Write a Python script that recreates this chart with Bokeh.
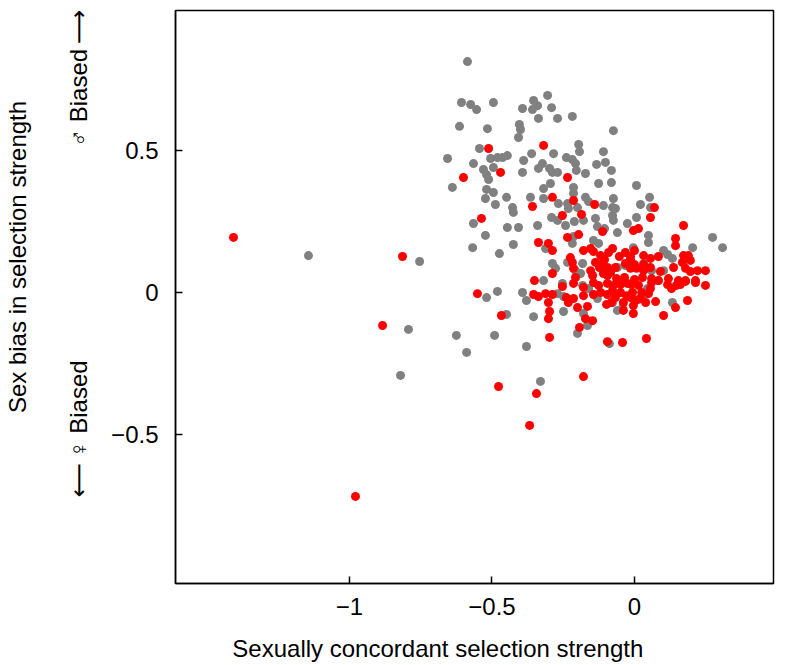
from bokeh.plotting import figure
from bokeh.models import Range1d, FixedTicker, LinearAxis
from bokeh.embed import file_html
from bokeh.resources import INLINE

# ---- data ----
gray_x = [-0.586, -0.607, -0.575, -0.554, -0.495, -0.393, -0.354, -0.340, -0.358, -0.305,
          -0.291, -0.337, -0.270, -0.218, -0.404, -0.400, -0.407, -0.614, -0.516, -0.074,
          -0.656, -0.544, -0.196, -0.193, -0.284, -0.361, -0.109, -0.505, -0.481, -0.463,
          -0.446, -0.565, -0.495, -0.530, -0.519, -0.512, -0.389, -0.393, -0.323, -0.337,
          -0.298, -0.288, -0.270, -0.239, -0.218, -0.207, -0.204, -0.172, -0.133, -0.102,
          -0.081, -0.295, -0.319, -0.319, -0.365, -0.214, -0.214, -0.126, -0.081, -0.519,
          -0.495, -0.523, -0.449, -0.488, -0.428, -0.425, -0.235, -0.267, -0.172, -0.161,
          -0.109, -0.074, -0.077, -0.067, -0.232, -0.200, -0.291, -0.270, -0.242, -0.211,
          -0.179, -0.137, -0.130, -0.105, -0.077, -0.074, -0.060, -0.565, -0.446, -0.407,
          -0.340, -0.639, -0.214, -0.218, -0.144, -0.126, -0.025, 0.007, 0.021, 0.007,
          0.053, 0.056, 0.049, 0.049, 0.274, 0.309, 0.204, 0.102, 0.116, 0.133,
          -0.004, 0.032, 0.060, 0.102, 0.084, 0.046, 0.039, 0.014, 0.133, -0.060,
          -0.042, -0.312, -0.288, -0.277, -0.235, -0.182, -0.207, -0.189, -0.319, -0.253,
          -0.182, -0.161, -0.270, -0.249, -0.130, -0.077, -0.249, -0.179, -0.165, -0.200,
          -0.060, -0.032, -0.519, -0.481, -0.393, -0.379, -0.449, -0.354, -0.625, -0.491,
          -0.589, -0.379, -0.330, -0.088, -1.144, -0.754, -0.793, -0.821, -0.474, -0.425,
          -0.523, -0.568]
gray_y = [0.813, 0.669, 0.662, 0.644, 0.669, 0.648, 0.676, 0.658, 0.644, 0.694,
          0.651, 0.613, 0.613, 0.620, 0.592, 0.574, 0.546, 0.585, 0.577, 0.570,
          0.472, 0.507, 0.521, 0.496, 0.489, 0.489, 0.496, 0.472, 0.475, 0.475,
          0.482, 0.454, 0.440, 0.433, 0.415, 0.398, 0.465, 0.423, 0.454, 0.437,
          0.437, 0.423, 0.423, 0.475, 0.468, 0.454, 0.430, 0.419, 0.451, 0.458,
          0.430, 0.384, 0.366, 0.331, 0.335, 0.370, 0.349, 0.384, 0.387, 0.363,
          0.352, 0.331, 0.335, 0.310, 0.299, 0.282, 0.313, 0.313, 0.335, 0.320,
          0.306, 0.331, 0.299, 0.296, 0.296, 0.299, 0.264, 0.254, 0.236, 0.250,
          0.254, 0.261, 0.232, 0.225, 0.271, 0.254, 0.211, 0.243, 0.229, 0.229,
          0.236, 0.370, 0.197, 0.173, 0.183, 0.173, 0.243, 0.264, 0.310, 0.377,
          0.335, 0.299, 0.201, 0.176, 0.194, 0.158, 0.158, 0.148, 0.134, 0.120,
          0.158, 0.102, 0.077, 0.077, 0.042, 0.014, -0.004, -0.025, -0.035, -0.063,
          -0.053, 0.155, 0.102, 0.085, 0.106, 0.102, 0.077, 0.067, 0.042, 0.032,
          0.025, 0.014, -0.004, -0.014, -0.021, -0.035, -0.067, -0.074, -0.116, -0.144,
          0.088, 0.095, -0.018, 0.004, 0.000, -0.028, -0.077, -0.085, -0.151, -0.151,
          -0.211, -0.190, -0.313, -0.180, 0.130, 0.109, -0.130, -0.292, 0.137, 0.169,
          0.201, 0.158]

red_x = [-1.407, -0.814, -0.884, -0.979, -0.368, -0.477, -0.344, -0.179, -0.298, -0.551,
         -0.467, -0.095, -0.042, 0.042, -0.512, -0.319, -0.470, -0.600, -0.235, -0.288,
         -0.214, -0.140, -0.358, -0.253, -0.186, -0.537, -0.112, -0.337, -0.302, -0.288,
         -0.235, -0.196, 0.070, 0.056, -0.004, 0.014, 0.172, 0.144, 0.144,
         -0.225, -0.179, -0.154, -0.144, -0.119, -0.091, -0.077, -0.053, -0.032, -0.014,
         0.000, 0.032, 0.056, 0.084, 0.172, 0.189,
         -0.218, -0.137, -0.112, -0.105, -0.032, -0.014, 0.000, 0.032, 0.168, 0.196,
         -0.288, -0.214, -0.154, -0.123, -0.109, -0.095, -0.084, -0.067, -0.014, 0.007,
         0.032, 0.056, 0.091, 0.137, 0.179, 0.196, 0.221, 0.249,
         -0.351, -0.207, -0.147, -0.095, -0.063, -0.035, 0.000, 0.028, 0.060, 0.084,
         0.119, 0.154, 0.179, 0.214,
         -0.253, -0.214, -0.179, -0.144, -0.126, -0.095, -0.074, -0.049, -0.025, -0.011,
         0.014, 0.060, 0.056, 0.116, 0.130, 0.147, 0.161, 0.179, 0.214, 0.249,
         -0.354, -0.337, -0.312, -0.288, -0.239, -0.214, -0.179, -0.144, -0.119, -0.095,
         -0.077, -0.067, -0.049, -0.028, -0.014, -0.007, 0.025, 0.021, 0.049,
         -0.302, -0.298, -0.232, -0.200, -0.165, -0.098, -0.081, -0.039, -0.039, -0.004,
         0.004, 0.039, 0.074, 0.144, 0.186,
         -0.302, -0.193, -0.172, -0.147, -0.004, 0.102]
red_y = [0.194, 0.127, -0.116, -0.718, -0.468, -0.331, -0.356, -0.296, -0.158, -0.004,
         -0.081, -0.173, -0.176, -0.162, 0.507, 0.518, 0.423, 0.405, 0.405, 0.335,
         0.324, 0.310, 0.303, 0.271, 0.275, 0.261, 0.215, 0.176, 0.173, 0.148,
         0.194, 0.204, 0.299, 0.264, 0.218, 0.225, 0.236, 0.190, 0.165,
         0.123, 0.148, 0.155, 0.144, 0.130, 0.141, 0.155, 0.127, 0.141, 0.127,
         0.148, 0.130, 0.120, 0.127, 0.130, 0.130,
         0.106, 0.106, 0.102, 0.116, 0.102, 0.116, 0.099, 0.099, 0.106, 0.113,
         0.067, 0.085, 0.077, 0.088, 0.067, 0.088, 0.070, 0.088, 0.085, 0.085,
         0.077, 0.088, 0.074, 0.088, 0.085, 0.074, 0.077, 0.077,
         0.042, 0.053, 0.060, 0.060, 0.049, 0.053, 0.046, 0.053, 0.049, 0.042,
         0.049, 0.042, 0.042, 0.042,
         0.021, 0.032, 0.018, 0.035, 0.025, 0.032, 0.025, 0.028, 0.032, 0.028,
         0.025, 0.035, 0.014, 0.028, 0.014, 0.025, 0.028, 0.039, 0.035, 0.025,
         -0.007, -0.014, -0.004, -0.007, -0.018, -0.021, -0.011, -0.007, 0.000, -0.007,
         0.007, -0.018, 0.000, -0.011, -0.018, 0.000, 0.000, -0.021, -0.004,
         -0.035, -0.067, -0.035, -0.053, -0.049, -0.042, -0.035, -0.035, -0.063, -0.046,
         -0.028, -0.035, -0.032, -0.053, -0.028,
         -0.092, -0.123, -0.092, -0.099, -0.074, -0.081]

x_ticks = [-1, -0.5, 0]
x_tick_labels = ["\u22121", "\u22120.5", "0"]
y_ticks = [-0.5, 0, 0.5]
y_tick_labels = ["\u22120.5", "0", "0.5"]

NB = "\u00a0"
x_title = "Sexually concordant selection strength"
y_title = "Sex bias in selection strength"
male_label = "\u2642 Biased\u2009\u27f6"
female_label = "\u27f5\u2009\u2640 Biased"

FONT = "Liberation Sans"
FONT_SYM = "Liberation Sans, DejaVu Sans"

p = figure(width=786, height=664, output_backend="svg", toolbar_location=None,
           x_range=Range1d(-1.6105, 0.4877), y_range=Range1d(-1.0246, 0.993),
           min_border_left=175, min_border_right=13, min_border_top=10, min_border_bottom=81)
p.grid.visible = False
p.outline_line_color = "black"
p.outline_line_width = 1.5
p.background_fill_color = "white"
p.border_fill_color = "white"

p.scatter(gray_x, gray_y, size=9, fill_color="#808080", line_color=None)
p.scatter(red_x, red_y, size=9, fill_color="#ff0000", line_color=None)

for ax, ticks, labels in ((p.xaxis[0], x_ticks, x_tick_labels), (p.yaxis[0], y_ticks, y_tick_labels)):
    ax.ticker = FixedTicker(ticks=ticks)
    ax.major_label_overrides = {t: l for t, l in zip(ticks, labels)}
    ax.major_tick_in = 7
    ax.major_tick_out = 0
    ax.minor_tick_line_color = None
    ax.axis_line_width = 1.5
    ax.major_tick_line_width = 1.5
    ax.major_label_text_font = FONT
    ax.major_label_text_font_size = "24px"
    ax.major_label_text_color = "black"
    ax.axis_label_text_font = FONT
    ax.axis_label_text_font_size = "24px"
    ax.axis_label_text_font_style = "normal"
    ax.axis_label_text_color = "black"

p.yaxis.major_label_orientation = "horizontal"
p.xaxis.major_label_standoff = 14
p.yaxis.major_label_standoff = 17

# x title (shifted left with trailing spaces to sit where the reference has it)
p.xaxis.axis_label = x_title + NB * 11
p.xaxis.axis_label_standoff = 17

# inner y label: female / male direction annotations (leading spaces lift it)
p.yaxis.axis_label = NB * 13 + female_label + NB * 32 + male_label
p.yaxis.axis_label_standoff = 16
p.yaxis.axis_label_text_font = FONT_SYM

# outer y axis carrying only the y title
outer = LinearAxis(ticker=FixedTicker(ticks=[]), axis_line_color=None,
                   major_tick_line_color=None, minor_tick_line_color=None,
                   major_label_text_font_size="0px",
                   axis_label=NB * 12 + y_title, axis_label_standoff=32,
                   axis_label_text_font=FONT, axis_label_text_font_size="24px",
                   axis_label_text_font_style="normal", axis_label_text_color="black")
p.add_layout(outer, "left")

open("out.html", "w").write(file_html(p, INLINE))
